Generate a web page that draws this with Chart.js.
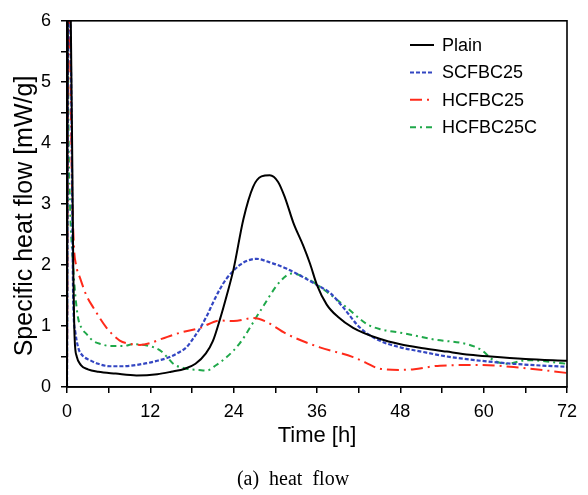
<!DOCTYPE html>
<html>
<head>
<meta charset="utf-8">
<script src="https://cdn.jsdelivr.net/npm/chart.js@4.4.1/dist/chart.umd.min.js"></script>
<style>
  html, body { margin: 0; padding: 0; background: #fff; }
  #wrap { width: 588px; height: 495px; }
</style>
</head>
<body>
<div id="wrap"><canvas id="heatChart" width="588" height="495"></canvas></div>
<script>
// Data (time in h, heat flow in mW/g)
const plainTime = [0, 0.15, 0.5, 0.9, 1.1, 1.4, 2, 3, 4.5, 7, 10, 13, 15, 17, 18.5, 20, 21, 22, 23, 24, 25.4, 26.8, 28, 29.2, 30.4, 31.4, 32.6, 34, 35, 36, 37.4, 39, 41.2, 45, 48, 51, 54.7, 58, 61, 66, 72];
const plainFlow = [0, 7, 6.5, 2.0, 0.8, 0.5, 0.36, 0.29, 0.25, 0.22, 0.19, 0.21, 0.25, 0.3, 0.38, 0.55, 0.75, 1.1, 1.5, 1.94, 2.75, 3.28, 3.45, 3.47, 3.36, 3.1, 2.69, 2.32, 2.02, 1.67, 1.35, 1.15, 0.97, 0.79, 0.70, 0.64, 0.58, 0.53, 0.5, 0.46, 0.43];

const scfTime = [0, 0.2, 0.6, 0.9, 1.2, 1.6, 2.2, 3.3, 4.5, 6.2, 8, 11, 13, 14.8, 16, 17.2, 18.2, 19.2, 20.2, 21.1, 22, 23, 24.9, 26, 27.3, 29, 31.6, 34, 36, 37.9, 39.8, 42.2, 45, 48, 51, 54.7, 58, 64.3, 72];
const scfFlow = [0, 7, 5, 1.4, 0.9, 0.65, 0.52, 0.44, 0.38, 0.34, 0.34, 0.38, 0.43, 0.49, 0.56, 0.65, 0.8, 0.97, 1.18, 1.4, 1.6, 1.78, 2.0, 2.07, 2.1, 2.05, 1.94, 1.8, 1.67, 1.54, 1.3, 0.97, 0.76, 0.65, 0.58, 0.5, 0.45, 0.38, 0.33];

const hcfTime = [0, 0.2, 0.45, 0.7, 1.0, 1.3, 1.9, 2.8, 3.8, 5.7, 7.6, 9, 10.5, 12, 13.4, 16.3, 19.2, 22, 24, 26.8, 28.5, 31.6, 36.4, 41.2, 43, 45, 48, 50, 53.7, 59.5, 65, 72];
const hcfFlow = [0, 7, 5.5, 3.4, 2.3, 2.0, 1.78, 1.5, 1.3, 0.97, 0.76, 0.71, 0.69, 0.72, 0.78, 0.89, 0.97, 1.09, 1.08, 1.13, 1.08, 0.87, 0.65, 0.49, 0.4, 0.3, 0.28, 0.29, 0.35, 0.36, 0.32, 0.23];

const hcfcTime = [0, 0.1, 0.2, 0.43, 0.7, 0.9, 1.2, 1.6, 2.2, 2.8, 3.7, 5, 6.2, 8, 9.6, 11.5, 13.4, 14.5, 15.3, 17.2, 19, 20.1, 21.5, 23, 24.9, 27.8, 30.7, 32.4, 35, 37.4, 40.3, 43.2, 45, 48, 52.3, 59.5, 61.4, 63.3, 66.2, 72];
const hcfcFlow = [0, 7, 4.5, 3.0, 2.3, 1.94, 1.5, 1.13, 0.95, 0.87, 0.76, 0.7, 0.67, 0.67, 0.7, 0.68, 0.6, 0.48, 0.38, 0.3, 0.28, 0.27, 0.36, 0.49, 0.72, 1.24, 1.73, 1.86, 1.75, 1.56, 1.3, 1.03, 0.95, 0.89, 0.79, 0.62, 0.44, 0.38, 0.44, 0.38];

const seriesNames = ["Plain", "SCFBC25", "HCFBC25", "HCFBC25C"];
const xTicks = [0, 12, 24, 36, 48, 60, 72];
const yTicks = [0, 1, 2, 3, 4, 5, 6];

function toPoints(ts, vs) {
  return ts.map((t, i) => ({ x: t, y: vs[i] }));
}

const SANS = "'Liberation Sans', Arial, sans-serif";

// Frame, legend, y title and caption
const extras = {
  id: 'extras',
  afterDraw(chart) {
    const c = chart.ctx;
    const a = chart.chartArea;
    c.save();
    c.strokeStyle = '#000';
    c.lineWidth = 1.6;
    c.strokeRect(a.left, a.top, a.right - a.left, a.bottom - a.top);

    // legend
    c.font = "18px " + SANS;
    c.textBaseline = 'middle';
    c.fillStyle = '#000';
    chart.data.datasets.forEach((ds, i) => {
      const y = 45 + i * 27.4;
      c.beginPath();
      c.strokeStyle = ds.borderColor;
      c.lineWidth = 2;
      c.setLineDash(ds.borderDash || []);
      c.moveTo(410, y);
      c.lineTo(434, y);
      c.stroke();
      c.setLineDash([]);
      c.fillText(ds.label, 442, y + 1);
    });

    // y axis title
    c.save();
    c.translate(25, 216);
    c.rotate(-Math.PI / 2);
    c.font = "25px " + SANS;
    c.textAlign = 'center';
    c.textBaseline = 'middle';
    c.fillText("Specific heat flow [mW/g]", 0, 0);
    c.restore();

    // caption
    c.font = "20px 'Liberation Serif', 'Times New Roman', serif";
    c.textAlign = 'center';
    c.textBaseline = 'middle';
    c.fillText("(a)  heat  flow", 293, 480);
    c.restore();
  }
};

const ctx = document.getElementById('heatChart').getContext('2d');
const heatChart = new Chart(ctx, {
  type: 'line',
  data: {
    datasets: [
      {
        label: seriesNames[0],
        data: toPoints(plainTime, plainFlow),
        borderColor: '#000000',
        borderWidth: 2
      },
      {
        label: seriesNames[1],
        data: toPoints(scfTime, scfFlow),
        borderColor: '#3346c2',
        borderWidth: 2.2,
        borderDash: [4, 2]
      },
      {
        label: seriesNames[2],
        data: toPoints(hcfTime, hcfFlow),
        borderColor: '#ff2a1a',
        borderWidth: 2,
        borderDash: [12, 5, 2, 5]
      },
      {
        label: seriesNames[3],
        data: toPoints(hcfcTime, hcfcFlow),
        borderColor: '#1fa84a',
        borderWidth: 2,
        borderDash: [6, 4, 2, 4]
      }
    ]
  },
  options: {
    responsive: false,
    animation: false,
    events: [],
    layout: { padding: { left: 0, right: 21, top: 15, bottom: 46 } },
    elements: {
      point: { radius: 0 },
      line: { tension: 0.4, cubicInterpolationMode: 'monotone', fill: false }
    },
    plugins: {
      legend: { display: false },
      tooltip: { enabled: false }
    },
    scales: {
      x: {
        type: 'linear',
        min: 0,
        max: 72,
        afterFit: (s) => { s.height = 62; },
        afterBuildTicks: (s) => {
          const t = [];
          for (let v = 0; v <= 72; v += 6) t.push({ value: v });
          s.ticks = t;
        },
        ticks: {
          autoSkip: false,
          maxRotation: 0,
          padding: 8,
          color: '#000',
          font: { family: SANS, size: 18 },
          callback: (v) => xTicks.includes(v) ? String(v) : ''
        },
        grid: { drawOnChartArea: false, tickLength: 6, color: '#000', lineWidth: 1.5 },
        border: { display: true, color: '#000', width: 1.6 },
        title: {
          display: true,
          text: 'Time [h]',
          color: '#000',
          font: { family: SANS, size: 22 },
          padding: { top: 0, bottom: 0 }
        }
      },
      y: {
        min: 0,
        max: 6,
        afterFit: (s) => { s.width = 67; },
        afterBuildTicks: (s) => {
          const t = [];
          for (let v = 0; v <= 6; v += 0.5) t.push({ value: v });
          s.ticks = t;
        },
        ticks: {
          autoSkip: false,
          padding: 10,
          color: '#000',
          font: { family: SANS, size: 18 },
          callback: (v) => yTicks.includes(v) ? String(v) : ''
        },
        grid: { drawOnChartArea: false, tickLength: 6, color: '#000', lineWidth: 1.5 },
        border: { display: true, color: '#000', width: 1.6 }
      }
    }
  },
  plugins: [extras]
});
</script>
</body>
</html>
